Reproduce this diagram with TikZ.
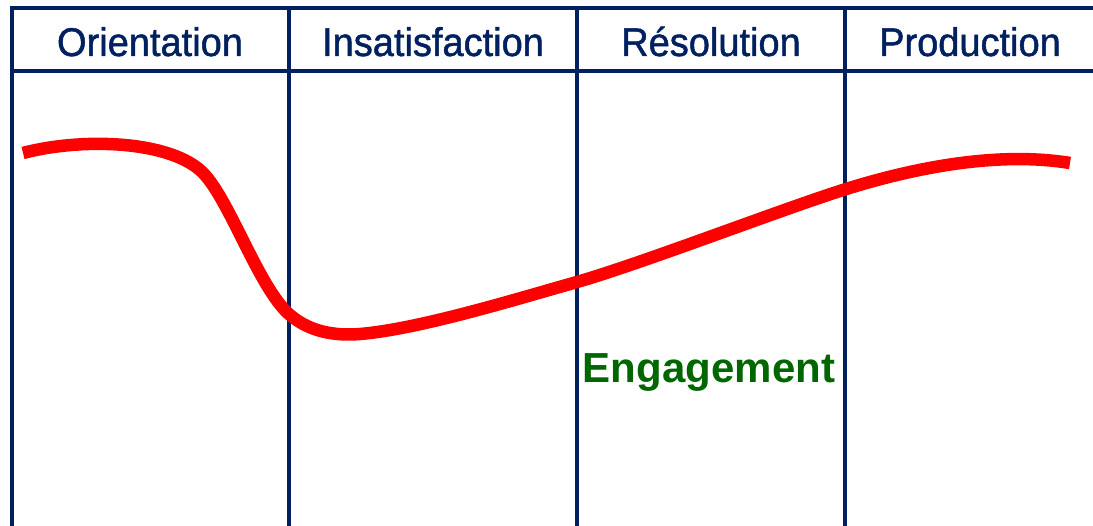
\documentclass[tikz,border=0pt]{standalone}
\usepackage{fontspec}
\setmainfont{Liberation Sans}
\newfontfamily\headfont[FakeStretch=0.95,FakeBold=1.2]{Liberation Sans}
\usepackage{xcolor}
\usepackage{tikz}

\definecolor{navy}{HTML}{002060}
\definecolor{leafgreen}{HTML}{006600}

\tikzset{
  gridline/.style={draw=navy, line width=4pt},
  phase/.style={anchor=base, text=navy, font=\headfont\fontsize{40}{48}\selectfont},
}

\begin{document}
\begin{tikzpicture}[x=1pt,y=-1pt]
\useasboundingbox (0,0) rectangle (1093,526);

    % table frame
    \draw[gridline] (12,8) -- (1093,8);
    \draw[gridline] (12,71) -- (1093,71);
    \draw[gridline] (12,6) -- (12,526);
    \draw[gridline] (289,6) -- (289,526);
    \draw[gridline] (577,6) -- (577,526);
    \draw[gridline] (845,6) -- (845,526);

    \node[phase] (orient) at (150,56) {Orientation};
    \node[phase] (insat) at (433,56) {Insatisfaction};
    \node[phase] (resol) at (711,56) {Résolution};
    \node[phase] (prod) at (970,56) {Production};

    % the curve
    \draw[red, line width=12.5pt] (23,153)
      .. controls (80,138) and (165,140) .. (200,170)
      .. controls (228,194) and (258,288) .. (290,315)
      .. controls (310,332) and (335,336) .. (360,334)
      .. controls (420,329) and (520,298) .. (577,282)
      .. controls (640,264) and (780,210) .. (843,190)
      .. controls (900,172) and (990,150) .. (1070,163);

    \node[anchor=base, text=leafgreen, font=\bfseries\fontsize{42}{50}\selectfont]
      (engage) at (709,383) {Engagement};

\end{tikzpicture}
\end{document}
